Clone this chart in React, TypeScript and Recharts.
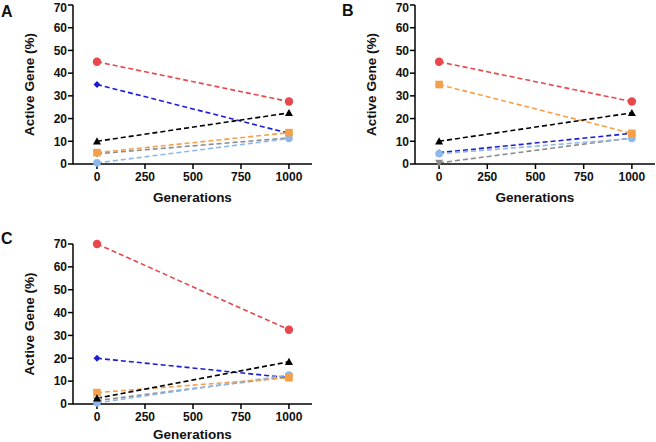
import { LineChart, Line, XAxis, YAxis } from 'recharts';

const generations = [0, 1000];
const xTicks = [0, 250, 500, 750, 1000];
const yTicks = [0, 10, 20, 30, 40, 50, 60, 70];

// series order: red, blue, black, orange, grey, light blue
const panelAStart = [45, 35, 10, 5, 4.5, 0.5];
const panelAEnd = [27.5, 13.5, 22.5, 13.8, 11.5, 11.2];
const panelBStart = [45, 5, 10, 35, 0.5, 4.5];
const panelBEnd = [27.5, 13.5, 22.5, 13.5, 11.5, 11.2];
const panelCStart = [70, 20, 2.5, 5, 1.5, 0.5];
const panelCEnd = [32.5, 11.5, 18.5, 11.5, 12, 12.7];

const series = [
  { key: 's0', color: '#e8474b', shape: 'circle' },
  { key: 's1', color: '#1d1dd4', shape: 'diamond' },
  { key: 's2', color: '#000000', shape: 'triangle' },
  { key: 's3', color: '#f4a04a', shape: 'square' },
  { key: 's4', color: '#8c8c8c', shape: 'down' },
  { key: 's5', color: '#8db8ec', shape: 'smallcircle' },
];
// draw order so the right markers sit on top
const drawOrder = [4, 1, 5, 3, 2, 0];

const font = '"Liberation Sans", Arial, sans-serif';

function buildRows(start: number[], end: number[]) {
  return generations.map((g, i) => {
    const row: any = { gen: g };
    series.forEach((s, j) => {
      row[s.key] = i === 0 ? start[j] : end[j];
    });
    return row;
  });
}

const makeDot = (shape: string, color: string) => (props: any) => {
  const { cx, cy, key } = props;
  if (cx == null || cy == null) return <g key={key} />;
  if (shape === 'circle') return <circle key={key} cx={cx} cy={cy} r={4.2} fill={color} />;
  if (shape === 'smallcircle') return <circle key={key} cx={cx} cy={cy} r={3.8} fill={color} />;
  if (shape === 'square') return <rect key={key} x={cx - 3.8} y={cy - 3.8} width={7.6} height={7.6} fill={color} />;
  if (shape === 'triangle')
    return <polygon key={key} points={`${cx},${cy - 4} ${cx + 4},${cy + 3.2} ${cx - 4},${cy + 3.2}`} fill={color} />;
  if (shape === 'down')
    return <polygon key={key} points={`${cx},${cy + 4} ${cx + 4},${cy - 3.2} ${cx - 4},${cy - 3.2}`} fill={color} />;
  return <polygon key={key} points={`${cx},${cy - 3.5} ${cx + 3.5},${cy} ${cx},${cy + 3.5} ${cx - 3.5},${cy}`} fill={color} />;
};

interface PanelProps {
  letter: string;
  left: number;
  top: number;
  width: number;
  height: number;
  axisWidth: number;
  marginTop: number;
  marginRight: number;
  xAxisHeight: number;
  labelOffset: number;
  genOffset: number;
  letterLeft: number;
  letterTop: number;
  rows: any[];
}

function Panel(p: PanelProps) {
  const tickStyle = { fontSize: 12, fontWeight: 'bold', fill: '#111', fontFamily: font };
  return (
    <div style={{ position: 'absolute', left: p.left, top: p.top, width: p.width, height: p.height }}>
      <LineChart
        width={p.width}
        height={p.height}
        data={p.rows}
        margin={{ top: p.marginTop, right: p.marginRight, left: 0, bottom: 0 }}
      >
        <XAxis
          dataKey="gen"
          type="number"
          domain={[-125, 1120]}
          ticks={xTicks}
          height={p.xAxisHeight}
          stroke="#000"
          strokeWidth={1.5}
          tickSize={5}
          tickMargin={3}
          tick={tickStyle}
          label={{
            value: 'Generations',
            position: 'insideBottom',
            offset: p.genOffset,
            style: { fontSize: 13.5, fontWeight: 'bold', fill: '#111', fontFamily: font },
          }}
        />
        <YAxis
          type="number"
          domain={[0, 70]}
          ticks={yTicks}
          width={p.axisWidth}
          stroke="#000"
          strokeWidth={1.5}
          tickSize={5}
          tickMargin={1}
          tick={tickStyle}
          label={{
            value: 'Active Gene (%)',
            angle: -90,
            position: 'insideLeft',
            offset: p.labelOffset,
            style: { textAnchor: 'middle', fontSize: 13.5, fontWeight: 'bold', fill: '#111', fontFamily: font },
          }}
        />
        {drawOrder.map((i) => {
          const s = series[i];
          return (
            <Line
              key={s.key}
              type="linear"
              dataKey={s.key}
              stroke={s.color}
              strokeWidth={1.6}
              strokeDasharray="5 3"
              dot={makeDot(s.shape, s.color)}
              activeDot={false}
              isAnimationActive={false}
            />
          );
        })}
      </LineChart>
      <div
        style={{
          position: 'absolute',
          left: p.letterLeft,
          top: p.letterTop,
          fontFamily: font,
          fontWeight: 'bold',
          fontSize: 16,
          lineHeight: '18px',
          color: '#111',
        }}
      >
        {p.letter}
      </div>
    </div>
  );
}

export default function App() {
  return (
    <div style={{ position: 'absolute', left: 0, top: 0, width: 656, height: 442, background: '#fff' }}>
      <Panel
        letter="A"
        left={0}
        top={0}
        width={330}
        height={220}
        axisWidth={73}
        marginTop={5}
        marginRight={18}
        xAxisHeight={56}
        labelOffset={29}
        genOffset={18}
        letterLeft={1}
        letterTop={3}
        rows={buildRows(panelAStart, panelAEnd)}
      />
      <Panel
        letter="B"
        left={330}
        top={0}
        width={326}
        height={220}
        axisWidth={85}
        marginTop={5}
        marginRight={1}
        xAxisHeight={56}
        labelOffset={41}
        genOffset={18}
        letterLeft={12}
        letterTop={2}
        rows={buildRows(panelBStart, panelBEnd)}
      />
      <Panel
        letter="C"
        left={0}
        top={220}
        width={330}
        height={222}
        axisWidth={73}
        marginTop={24}
        marginRight={18}
        xAxisHeight={38}
        labelOffset={29}
        genOffset={3}
        letterLeft={1}
        letterTop={10}
        rows={buildRows(panelCStart, panelCEnd)}
      />
    </div>
  );
}
